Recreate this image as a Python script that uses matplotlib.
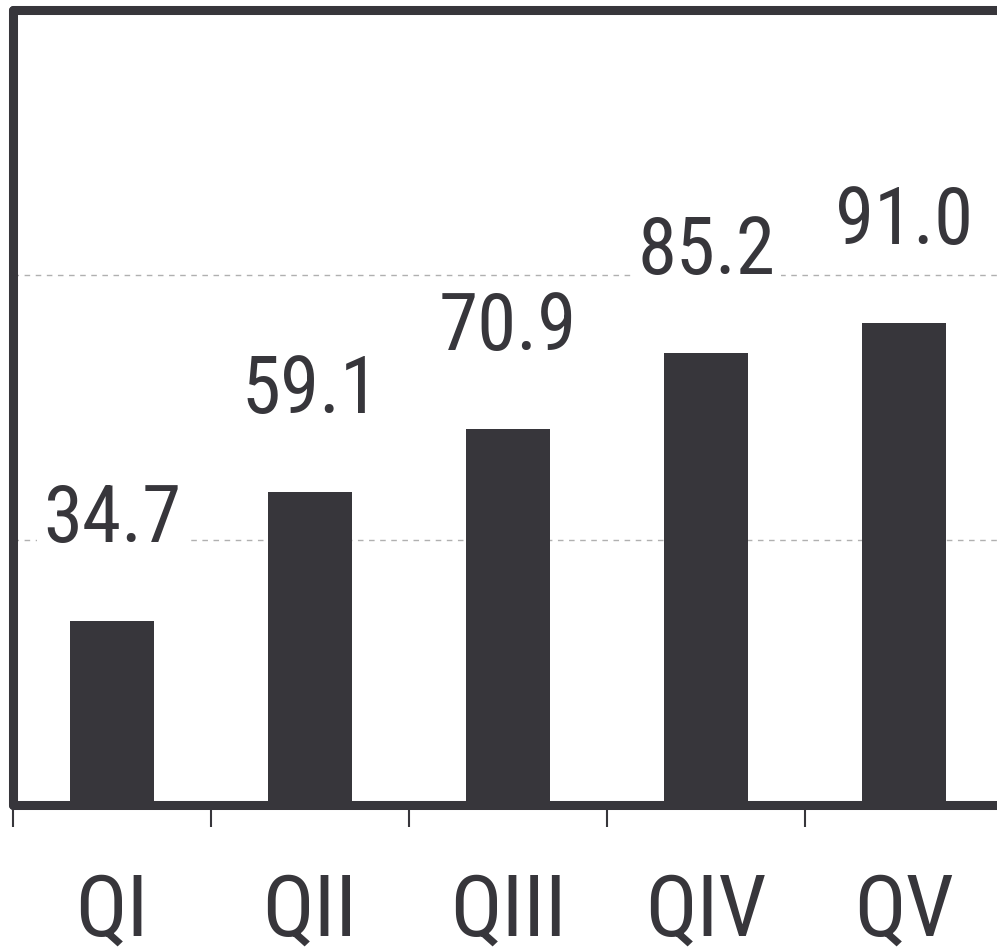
import matplotlib
matplotlib.use("Agg")
import matplotlib.pyplot as plt
import numpy as np

categories = ["QI", "QII", "QIII", "QIV", "QV"]
values = [34.7, 59.1, 70.9, 85.2, 91.0]
grid_values = [50, 100]

dark = "#37363b"
plt.rcParams['font.family'] = ['Roboto Condensed', 'DejaVu Sans']

fig = plt.figure(figsize=(9.97, 9.49), dpi=100)
ax = fig.add_axes([13 / 997, 144 / 949, 990 / 997, 795 / 949])

x = np.arange(len(categories))
ax.bar(x, values, width=0.42, color=dark, zorder=2)

for g in grid_values:
    ax.axhline(g, color="#b0b0b0", lw=1, ls=(0, (4, 4)), zorder=1)

for xi, v in zip(x, values):
    ax.annotate("{:.1f}".format(v), xy=(xi, v), xytext=(0, 57), textcoords="offset points",
                ha="center", va="baseline", fontsize=57, color=dark, zorder=3,
                bbox=dict(facecolor="white", edgecolor="none", pad=4))

ax.set_xlim(-0.5, len(categories) - 0.5)
ax.set_ylim(0, 150)
ax.set_yticks([])

# boundary ticks + centered labels
ax.set_xticks(np.arange(len(categories) + 1) - 0.5)
ax.set_xticklabels([])
ax.tick_params(axis="x", which="major", direction="out", length=16, width=1.5, color=dark)
ax.set_xticks(x, minor=True)
ax.set_xticklabels(categories, minor=True, fontsize=62, color=dark)
ax.tick_params(axis="x", which="minor", length=0, pad=48)

for s in ax.spines.values():
    s.set_linewidth(6.5)
    s.set_color(dark)
    s.set_capstyle("round")

fig.savefig("out.png", dpi=100)
